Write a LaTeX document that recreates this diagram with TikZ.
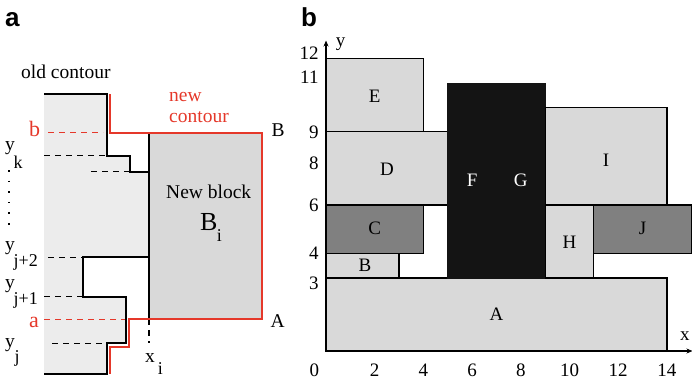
\documentclass[tikz,border=0pt]{standalone}
\usepackage{fontspec}
\setmainfont{Liberation Serif}
\newfontfamily\labfont{Liberation Sans}
\usetikzlibrary{arrows.meta}
\definecolor{oldgray}{HTML}{ECECEC}
\definecolor{blockgray}{HTML}{D9D9D9}
\definecolor{midgray}{HTML}{808080}
\definecolor{darkblk}{HTML}{141414}
\definecolor{newred}{HTML}{E5382A}
\begin{document}
\begin{tikzpicture}[x=1pt,y=-1pt,
  txt/.style={font=\fontsize{19.5}{21}\selectfont, inner sep=0pt, anchor=base west},
  sub/.style={font=\fontsize{18}{20}\selectfont, inner sep=0pt, anchor=base west},
  redtxt/.style={txt, text=newred},
  panel/.style={font=\labfont\bfseries\fontsize{26}{28}\selectfont, inner sep=0pt, anchor=base west},
  contour/.style={line width=2pt, black},
  newline/.style={line width=2pt, newred},
  dashblack/.style={line width=1.2pt, dash pattern=on 6pt off 5pt},
  dashred/.style={line width=1.2pt, newred, dash pattern=on 6pt off 5pt},
  box/.style={draw=black, line width=1.2pt},
  blabel/.style={font=\fontsize{19}{21}\selectfont, inner sep=0pt},
  tick/.style={font=\fontsize{19}{21}\selectfont, inner sep=0pt}]
\useasboundingbox (0,0) rectangle (692,380);

% ---------- panel a ----------
\node[panel] (pa) at (5,26) {a};
\fill[oldgray] (44,94.3) -| (106.7,155.7) -| (129.7,171.7) -| (149,257.3) -| (83,296.7) -| (126,343.3) -| (106.7,373.7) -- (44,373.7) -- cycle;
\fill[blockgray] (149,132.7) rectangle (262.3,319.3);
% dashed levels
\draw[dashred] (48,132.7) -- (103,132.7);
\draw[dashblack] (44,155.7) -- (106,155.7);
\draw[dashblack] (91,171.7) -- (129,171.7);
\draw[dashblack] (48,257.3) -- (83,257.3);
\draw[dashblack] (44,296.7) -- (83,296.7);
\draw[dashred] (44,319.3) -- (126,319.3);
\draw[dashblack] (52,343.3) -- (107,343.3);
\draw[dashblack] (149,319.3) -- (149,343);
% old contour
\draw[contour] (44,94.3) -| (106.7,155.7) -| (129.7,171.7) -| (149,257.3) -| (83,296.7) -| (126,343.3) -| (106.7,373.7) -- (44,373.7);
\draw[contour] (149,132.7) -- (149,319.3);
% new contour
\draw[newline] (110,94.3) |- (262.3,132.7) |- (129.3,319.3) |- (110,346.7) -- (110,373.7);
% dotted ellipsis
\draw[line width=1.6pt, dash pattern=on 1.6pt off 9pt] (9,170) -- (9,232);
% texts
\node[txt] (oldc) at (21,78.7) {old contour};
\node[redtxt] (newc1) at (169,101.7) {new};
\node[redtxt] (newc2) at (169,122.3) {contour};
\node[txt] (lB) at (271.5,136.7) {B};
\node[txt] (lA) at (270.5,327.7) {A};
\node[redtxt, font=\fontsize{22}{24}\selectfont] (lb) at (29,136.7) {b};
\node[redtxt, font=\fontsize{22}{24}\selectfont] (la) at (29,327.3) {a};
\node[txt] (yk) at (5,150.5) {y};
\node[sub] (k) at (13.5,168) {k};
\node[txt] (yj2) at (5,250.5) {y};
\node[sub] (j2) at (13.5,266) {j+2};
\node[txt] (yj1) at (5,288.8) {y};
\node[sub] (j1) at (13.5,304.3) {j+1};
\node[txt] (yj) at (5,347) {y};
\node[sub] (j) at (14.5,362) {j};
\node[txt] (xi) at (145,362.7) {x};
\node[sub] (i1) at (157.7,374.3) {i};
\node[txt] (nb) at (166,198) {New block};
\node[txt, font=\fontsize{26}{28}\selectfont] (Bi) at (200,230) {B};
\node[sub] (i2) at (216.7,241.7) {i};

% ---------- panel b ----------
\node[panel] (pb) at (301,26) {b};
\begin{scope}[shift={(326,351)}, x=24.35pt, y=24.35pt]
  \filldraw[box, fill=blockgray] (0,0) rectangle (14,3);
  \filldraw[box, fill=blockgray] (0,3) rectangle (3,4);
  \filldraw[box, fill=midgray] (0,4) rectangle (4,6);
  \filldraw[box, fill=blockgray] (0,6) rectangle (5,9);
  \filldraw[box, fill=blockgray] (0,9) rectangle (4,12);
  \filldraw[fill=darkblk, draw=darkblk, line width=1.2pt] (5,3) rectangle (7,11);
  \filldraw[fill=darkblk, draw=darkblk, line width=1.2pt] (7,3) rectangle (9,11);
  \filldraw[box, fill=blockgray] (9,6) rectangle (14,10);
  \filldraw[box, fill=blockgray] (9,3) rectangle (11,6);
  \filldraw[box, fill=midgray] (11,4) rectangle (15,6);
  \node[blabel] (A) at (7,1.5) {A};
  \node[blabel] (B) at (1.6,3.5) {B};
  \node[blabel] (C) at (2,5.05) {C};
  \node[blabel] (D) at (2.5,7.45) {D};
  \node[blabel] (E) at (2,10.45) {E};
  \node[blabel, text=white] (F) at (6,7) {F};
  \node[blabel, text=white] (G) at (8,7) {G};
  \node[blabel] (H) at (10,4.45) {H};
  \node[blabel] (I) at (11.5,7.85) {I};
  \node[blabel] (J) at (13,5.05) {J};
  \coordinate (O) at (0,0);
  \coordinate (xend) at (15.05,0);
  \coordinate (yend) at (0,12.75);
  \draw[line width=1.2pt, -{Stealth[length=6pt,width=5pt]}] (O) -- (xend);
  \draw[line width=1.2pt, -{Stealth[length=6pt,width=5pt]}] (O) -- (yend);
  \node[tick] (xl) at (14.74,0.6) {x};
  \node[tick] (yl) at (0.6,12.6) {y};
  \node[tick] (x0) at (-0.48,-0.8) {0};
  \foreach \v in {2,4,...,14} { \node[tick] (x\v) at (\v,-0.8) {\v}; }
  \node[tick, anchor=east] (y12) at (-0.3,12.24) {12};
  \node[tick, anchor=east] (y11) at (-0.3,11.25) {11};
  \node[tick, anchor=east] (y9) at (-0.3,9.0) {9};
  \node[tick, anchor=east] (y8) at (-0.3,7.72) {8};
  \node[tick, anchor=east] (y6) at (-0.3,5.99) {6};
  \node[tick, anchor=east] (y4) at (-0.3,4.02) {4};
  \node[tick, anchor=east] (y3) at (-0.3,2.78) {3};
\end{scope}
\end{tikzpicture}
\end{document}
